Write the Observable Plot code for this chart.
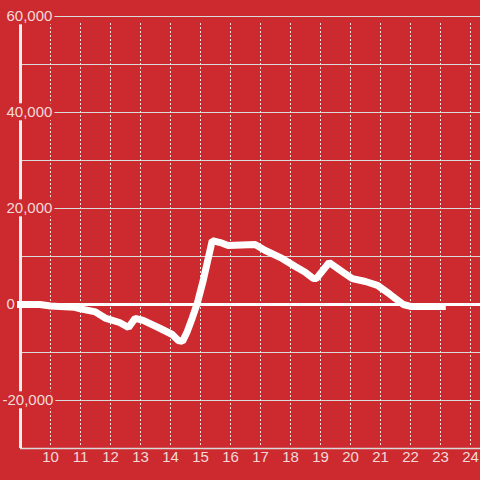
<!DOCTYPE html>
<html>
<head>
<meta charset="utf-8">
<script src="https://cdn.jsdelivr.net/npm/d3@7"></script>
<script src="https://cdn.jsdelivr.net/npm/@observablehq/plot@0.6"></script>
<style>
  html, body { margin: 0; padding: 0; background: #cc2a2f; }
</style>
</head>
<body>
<script>
const hours = [9, 9.65, 10.0, 10.8, 11.0, 11.5, 11.85, 12.3, 12.6, 12.82, 13.09, 13.66, 14.06, 14.26, 14.4, 14.56, 14.72, 14.89, 15.09, 15.39, 15.66, 15.92, 16.82, 17.16, 17.72, 18.16, 18.49, 18.76, 18.86, 19.29, 19.66, 20.06, 20.5, 20.9, 21.32, 21.76, 22.0, 23.06];
const values = [0, 0, -300, -600, -900, -1550, -2900, -3750, -4800, -2900, -3300, -5000, -6250, -7500, -7700, -5600, -2900, 200, 5000, 13300, 12900, 12300, 12500, 11250, 9600, 7900, 6700, 5400, 5400, 8750, 7100, 5400, 4800, 4000, 2100, 0, -400, -400];

const xTicks = [10, 11, 12, 13, 14, 15, 16, 17, 18, 19, 20, 21, 22, 23, 24];
const yGrid = [60000, 50000, 40000, 30000, 20000, 10000, -10000, -20000];
const yTicks = [60000, 40000, 20000, 0, -20000];
const yTickLabels = ["60,000", "40,000", "20,000", "0", "-20,000"];

const BG = "#cc2a2f";
const LABEL = "#f2dada";
const data = hours.map((h, i) => ({h, v: values[i]}));
const yLab = yTicks.map((v, i) => ({v, label: yTickLabels[i]}));

const svg = Plot.plot({
  width: 480,
  height: 480,
  marginLeft: 20,
  marginRight: 0,
  marginTop: 16,
  marginBottom: 32,
  x: {domain: [9, 24.333], axis: null},
  y: {domain: [-30000, 60000], axis: null},
  style: {background: BG, fontFamily: "'Liberation Sans', Arial, sans-serif"},
  marks: [
    Plot.ruleY(yGrid, {stroke: "#d9d9d9", strokeWidth: 1}),
    Plot.ruleX(xTicks, {stroke: "#e6e6e6", strokeWidth: 1, strokeDasharray: "2,2", insetTop: 7, insetBottom: 2}),
    Plot.ruleY([-30000], {stroke: "#d9d9d9", strokeWidth: 1.5}),
    Plot.ruleY([0], {stroke: "#ffffff", strokeWidth: 3}),
    Plot.ruleX([9], {stroke: "#eeeeee", strokeWidth: 3}),
    Plot.line(data, {x: "h", y: "v", stroke: "#ffffff", strokeWidth: 7, strokeLinejoin: "miter", strokeLinecap: "square"}),
    Plot.text(yLab.filter(d => d.v >= 0), {y: "v", text: "label", frameAnchor: "left", textAnchor: "start", dx: -14, fontSize: 15, fill: LABEL}),
    Plot.text(yLab.filter(d => d.v < 0), {y: "v", text: "label", frameAnchor: "left", textAnchor: "start", dx: -18, fontSize: 15, fill: LABEL}),
    Plot.text(xTicks, {x: d => d, text: d => String(d), frameAnchor: "bottom", dy: 13, fontSize: 15, fill: LABEL})
  ]
});
document.body.append(svg);

// label backgrounds that mask the axis and grid lines behind the y labels
const ns = "http://www.w3.org/2000/svg";
svg.querySelectorAll("text").forEach(t => {
  if (!yTickLabels.includes(t.textContent)) return;
  const b = t.getBBox();
  const r = document.createElementNS(ns, "rect");
  r.setAttribute("x", b.x - 2);
  r.setAttribute("y", b.y);
  r.setAttribute("width", b.width + 4);
  r.setAttribute("height", b.height);
  r.setAttribute("fill", BG);
  const tr = t.getAttribute("transform");
  if (tr) r.setAttribute("transform", tr);
  t.parentNode.insertBefore(r, t);
});
</script>
</body>
</html>
